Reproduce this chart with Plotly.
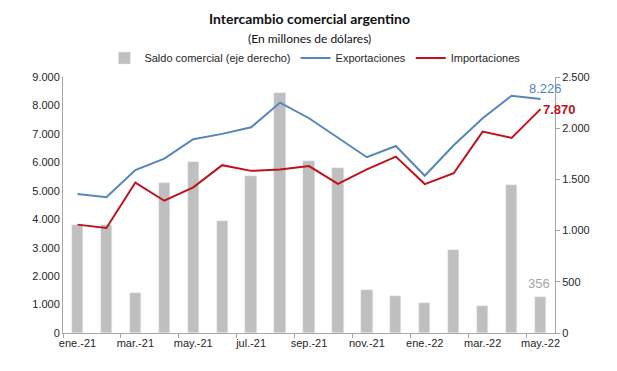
import plotly.graph_objects as go

months = ["ene.-21", "feb.-21", "mar.-21", "abr.-21", "may.-21", "jun.-21", "jul.-21", "ago.-21",
          "sep.-21", "oct.-21", "nov.-21", "dic.-21", "ene.-22", "feb.-22", "mar.-22", "abr.-22", "may.-22"]
exportaciones = [4890, 4770, 5730, 6130, 6810, 7000, 7230, 8100, 7550, 6850, 6180, 6575, 5530, 6600, 7550, 8340, 8226]
importaciones = [3810, 3690, 5290, 4650, 5120, 5900, 5700, 5750, 5870, 5240, 5750, 6200, 5235, 5615, 7080, 6860, 7870]
saldo = [1058, 1052, 394, 1468, 1670, 1091, 1533, 2341, 1680, 1608, 420, 364, 296, 810, 264, 1448, 356]
left_ticks = [0, 1000, 2000, 3000, 4000, 5000, 6000, 7000, 8000, 9000]
right_ticks = [0, 500, 1000, 1500, 2000, 2500]

idx = list(range(len(months)))
label_idx = idx[::2]
label_txt = [months[i] for i in label_idx]
boundaries = [i - 0.5 for i in label_idx]

BLUE = "#5585BF"
RED = "#C0121B"
GRAY = "#BFBFBF"
AXIS = "#A6A6A6"
TXT = "#262626"
SANS = "Arial, Liberation Sans, sans-serif"

fig = go.Figure()
fig.add_trace(go.Bar(x=idx, y=saldo, name="Saldo comercial (eje derecho)", marker_color=GRAY,
                     width=0.39, yaxis="y"))
fig.add_trace(go.Scatter(x=idx, y=exportaciones, name="Exportaciones", mode="lines",
                         line=dict(color=BLUE, width=2), yaxis="y2"))
fig.add_trace(go.Scatter(x=idx, y=importaciones, name="Importaciones", mode="lines",
                         line=dict(color=RED, width=2), yaxis="y2"))

fig.update_layout(
    width=617, height=371,
    margin=dict(l=63, r=62, t=77, b=38),
    paper_bgcolor="white", plot_bgcolor="white",
    separators=",.",
    font=dict(family=SANS, size=11, color=TXT),
    showlegend=True,
    legend=dict(orientation="h", x=0.512, xanchor="center", y=1.074, yanchor="middle",
                font=dict(family=SANS, size=11), tracegroupgap=0, bgcolor="rgba(0,0,0,0)"),
    bargap=0,
    xaxis=dict(range=[-0.5, 16.5], tickmode="array", tickvals=label_idx, ticktext=label_txt,
               showgrid=False, zeroline=False, showline=True, linecolor=AXIS, linewidth=1,
               ticks="", tickfont=dict(family=SANS, size=11),
               minor=dict(tickmode="array", tickvals=boundaries, ticks="outside", ticklen=4,
                          tickcolor=AXIS, showgrid=False)),
    yaxis=dict(side="right", range=[0, 2500], tickmode="array", tickvals=right_ticks,
               tickformat=",d", showgrid=False, zeroline=False, showline=True, linecolor=AXIS,
               ticks="outside", ticklen=4, tickcolor=AXIS, tickfont=dict(family=SANS, size=11)),
    yaxis2=dict(side="left", overlaying="y", range=[0, 9000], tickmode="array", tickvals=left_ticks,
                tickformat=",d", showgrid=False, zeroline=False, showline=True, linecolor=AXIS,
                ticks="", tickfont=dict(family=SANS, size=11)),
)

# Title and subtitle positioned relative to plot area (top at 77px, height 256px)
fig.add_annotation(text="<b>Intercambio comercial argentino</b>", xref="paper", yref="paper",
                   x=0.5, xanchor="center", y=1 + (77 - 18) / 256, yanchor="middle", showarrow=False,
                   font=dict(family="Lato, Liberation Sans, sans-serif", size=14, color="#111111"))
fig.add_annotation(text="(En millones de dólares)", xref="paper", yref="paper",
                   x=0.5, xanchor="center", y=1 + (77 - 38) / 256, yanchor="middle", showarrow=False,
                   font=dict(family="Lato, Liberation Sans, sans-serif", size=12, color="#111111"))

last = len(months) - 1
fig.add_annotation(text=f"{exportaciones[last]:,}".replace(",", "."), x=last, y=exportaciones[last],
                   xref="x", yref="y2", showarrow=False, xshift=5, yshift=11,
                   font=dict(family=SANS, size=13, color=BLUE))
fig.add_annotation(text="<b>" + f"{importaciones[last]:,}".replace(",", ".") + "</b>", x=last,
                   y=importaciones[last], xref="x", yref="y2", showarrow=False, xshift=19, yshift=0,
                   font=dict(family=SANS, size=13, color=RED))
fig.add_annotation(text=str(saldo[last]), x=last, y=saldo[last], xref="x", yref="y",
                   showarrow=False, xshift=-2, yshift=13, font=dict(family=SANS, size=13, color="#A6A6A6"))

fig.write_html("out.html", config={"displayModeBar": False},
               post_script="document.body.style.margin='0';document.body.style.padding='0';")
